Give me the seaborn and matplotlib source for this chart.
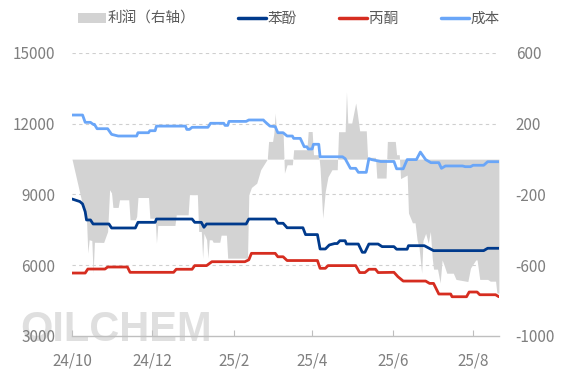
import numpy as np
import pandas as pd
import matplotlib
matplotlib.use('Agg')
import matplotlib.pyplot as plt
import matplotlib.dates as mdates
from matplotlib.ticker import FuncFormatter, FixedLocator
from matplotlib.patches import Patch
from matplotlib.lines import Line2D
import seaborn as sns

# ---------------- data (day offsets from 2024-10-01) ----------------
START = '2024-10-01'

cost_days = [0, 8, 10, 14, 16, 17, 19, 27, 30, 35,
             49, 50, 58, 59, 63, 64, 86, 87, 89, 91,
             103, 105, 115, 116, 118, 119, 132, 134, 145, 146,
             150, 154, 156, 160, 163, 167, 168, 173, 176, 178,
             179, 182, 183, 187, 188, 205, 207, 211, 215, 217,
             223, 225, 227, 234, 244, 246, 251, 254, 261, 264,
             268, 272, 278, 280, 283, 296, 298, 302, 304, 312,
             315, 323.5]
cost_vals = [12370, 12370, 12060, 12060, 11975, 11975, 11790, 11790, 11550, 11480,
             11480, 11620, 11620, 11705, 11705, 11900, 11900, 11760, 11760, 11850,
             11850, 12020, 12020, 11930, 11930, 12100, 12100, 12160, 12160, 12100,
             11900, 11880, 11620, 11620, 11480, 11480, 11380, 11380, 11025, 11025,
             10930, 10930, 11130, 11130, 10600, 10600, 10520, 10110, 10110, 9940,
             9940, 10520, 10480, 10400, 10400, 10090, 10090, 10480, 10480, 10800,
             10480, 10350, 10350, 10110, 10210, 10210, 10180, 10180, 10240, 10240,
             10390, 10390]

phenol_days = [0, 6, 8, 10, 11, 14, 16, 28, 30, 48,
               50, 63, 64, 91, 93, 98, 100, 102, 132, 134,
               154, 156, 160, 163, 175, 177, 186, 188, 192, 195,
               199, 201, 203, 207, 208, 217, 220, 222, 225, 232,
               235, 244, 246, 254, 255, 267, 274, 312, 315, 323.5]
phenol_vals = [8810, 8700, 8600, 8270, 7920, 7920, 7750, 7750, 7580, 7580,
               7820, 7820, 7960, 7960, 7820, 7820, 7610, 7750, 7750, 7960,
               7960, 7780, 7780, 7590, 7590, 7300, 7300, 6690, 6690, 6860,
               6920, 6920, 7040, 7040, 6900, 6900, 6550, 6550, 6900, 6900,
               6790, 6790, 6680, 6680, 6830, 6830, 6620, 6620, 6720, 6720]

acetone_days = [0, 10, 12, 25, 27, 42, 44, 77, 79, 91,
                93, 102, 106, 131, 134, 136, 154, 156, 160, 163,
                186, 188, 192, 194, 215, 218, 222, 225, 230, 232,
                244, 247, 251, 268, 271, 274, 278, 287, 288, 299,
                301, 307, 309, 321, 323.5]
acetone_vals = [5670, 5670, 5840, 5840, 5925, 5925, 5700, 5700, 5830, 5830,
                5985, 5985, 6150, 6150, 6230, 6505, 6505, 6360, 6360, 6200,
                6200, 5870, 5870, 5985, 5985, 5690, 5690, 5830, 5830, 5690,
                5700, 5515, 5330, 5330, 5230, 5230, 4780, 4780, 4665, 4665,
                4865, 4865, 4750, 4750, 4665]

profit_days = [0, 4, 8, 11, 12, 13, 15, 16, 17, 24,
               27, 28.5, 30, 31, 35, 36, 43, 44, 48, 49,
               50, 58, 59, 63, 64, 65, 78, 79, 88, 89,
               95, 96, 98, 99, 100, 102, 103, 104, 106, 107,
               112, 113, 117, 118, 133, 134, 136, 140, 143, 148,
               149, 152, 153, 154, 155, 160, 161, 163, 167, 168,
               178, 179, 182, 183, 187, 188, 190, 192, 194, 197,
               201, 202, 207, 208, 209, 212, 215, 216, 218, 223,
               224, 230, 231, 238, 239, 245, 246, 248, 249, 254,
               255, 258, 260, 261.5, 263, 265, 266, 268, 270, 271.6,
               273, 274, 277, 279, 280.5, 282, 284, 289, 291, 300,
               302, 306, 307, 309, 315, 317, 321, 322, 323.5]
profit_vals = [0, -130, -260, -343, -531, -456, -460, -645, -470, -471,
               -409, -173, -192, -273, -273, -230, -230, -343, -343, -324,
               -217, -217, -334, -334, -475, -375, -375, -315, -315, -201,
               -201, -409, -409, -560, -420, -456, -560, -456, -456, -470,
               -470, -430, -430, -560, -560, -201, -160, -136, -60, 0,
               100, 100, 147, 260, 147, 147, -79, -32, -32, 53,
               53, 156, 156, 25, 25, -50, -334, -180, -100, -60,
               -60, 155, 155, 380, 204, 204, 317, 270, 160, 160,
               10, 10, -107, -107, 100, 100, 25, 25, -110, -90,
               -305, -360, -360, -456, -500, -645, -460, -420, -475, -409,
               -560, -622, -622, -700, -570, -600, -645, -645, -680, -692,
               -616, -570, -570, -680, -680, -690, -690, -757, -757]

left_ticks = [3000, 6000, 9000, 12000, 15000]
right_ticks = [-1000, -600, -200, 200, 600]
labels = ['利润（右轴）', '苯酚', '丙酮', '成本']

# ---------------- styling ----------------
sns.set_theme(style='white')
plt.rcParams['font.family'] = ['Noto Sans CJK SC', 'DejaVu Sans']

C_GRAY = '#d3d3d3'
C_PHENOL = '#003a8c'
C_ACETONE = '#d62d20'
C_COST = '#6aa6f8'
C_TEXT = '#7f7f7f'

start = pd.Timestamp(START)
def to_dates(days):
    return start + pd.to_timedelta(np.asarray(days, dtype=float), unit='D')

fig = plt.figure(figsize=(5.68, 3.78), dpi=100, facecolor='white')
ax = fig.add_axes([72 / 568, 1 - 336 / 378, (499 - 72) / 568, (336 - 53) / 378])
ax2 = ax.twinx()
ax.set_zorder(ax2.get_zorder() + 1)
ax.patch.set_visible(False)
ax2.patch.set_visible(False)

# profit area on right axis
pdates = to_dates(profit_days)
ax2.fill_between(pdates, profit_vals, 0, color=C_GRAY, linewidth=0, zorder=2)

# price lines on left axis
sns.lineplot(x=to_dates(cost_days), y=cost_vals, ax=ax, color=C_COST, linewidth=2.0, legend=False)
sns.lineplot(x=to_dates(phenol_days), y=phenol_vals, ax=ax, color=C_PHENOL, linewidth=2.0, legend=False)
sns.lineplot(x=to_dates(acetone_days), y=acetone_vals, ax=ax, color=C_ACETONE, linewidth=2.0, legend=False)

xmin = start
xmax = start + pd.Timedelta(days=323.6)
ax.set_xlim(xmin, xmax)
ax.set_ylim(3000, 15000)
ax2.set_ylim(-1000, 600)

ax.yaxis.set_major_locator(FixedLocator(left_ticks))
ax2.yaxis.set_major_locator(FixedLocator(right_ticks))
ax.yaxis.set_major_formatter(FuncFormatter(lambda v, p: f'{int(v)}'))
ax2.yaxis.set_major_formatter(FuncFormatter(lambda v, p: f'{int(v)}'))

ax.xaxis.set_major_locator(mdates.MonthLocator(bymonth=[10, 12, 2, 4, 6, 8]))
def fmt_date(v, p):
    d = mdates.num2date(v)
    return f'{d:%y}/{d.month}'
ax.xaxis.set_major_formatter(FuncFormatter(fmt_date))

# grid on lower (right) axes so area covers it
ax2.grid(False)
ax.grid(False)
for yv in right_ticks[1:]:
    ax2.axhline(yv, color='#cfcfcf', linewidth=0.8, linestyle=(0, (3, 3)), zorder=1)

for s in ['top', 'left', 'right']:
    ax.spines[s].set_visible(False)
    ax2.spines[s].set_visible(False)
ax2.spines['bottom'].set_visible(False)
ax.spines['bottom'].set_color('#bfbfbf')
ax.spines['bottom'].set_linewidth(1.0)

ax.tick_params(axis='x', direction='in', length=4, width=0.8, color='#bfbfbf',
               labelsize=11, labelcolor=C_TEXT, pad=12, bottom=True)
ax.tick_params(axis='y', length=0, labelsize=11, labelcolor=C_TEXT, pad=12, left=True)
ax2.tick_params(axis='y', length=0, labelsize=11, labelcolor=C_TEXT, pad=12, right=True)
ax.set_xlabel('')
ax.set_ylabel('')
ax2.set_ylabel('')

# watermark
fig.text(20 / 568, 1 - 341 / 378, 'OILCHEM', fontsize=30, fontweight='bold',
         color='#dadada', alpha=0.85, family='Liberation Sans', ha='left', va='baseline', zorder=-1)

handles = [Patch(facecolor=C_GRAY, edgecolor='none'),
           Line2D([], [], color=C_PHENOL, linewidth=2.5),
           Line2D([], [], color=C_ACETONE, linewidth=2.5),
           Line2D([], [], color=C_COST, linewidth=2.5)]
fig.legend(handles, labels, loc='center', bbox_to_anchor=(289 / 568, 1 - 19 / 378), ncol=4,
           frameon=False, fontsize=10.5, handlelength=1.9, handleheight=0.6,
           handletextpad=0.15, columnspacing=2.9, labelcolor='#595959')

fig.savefig('out.png', dpi=100, facecolor='white')
